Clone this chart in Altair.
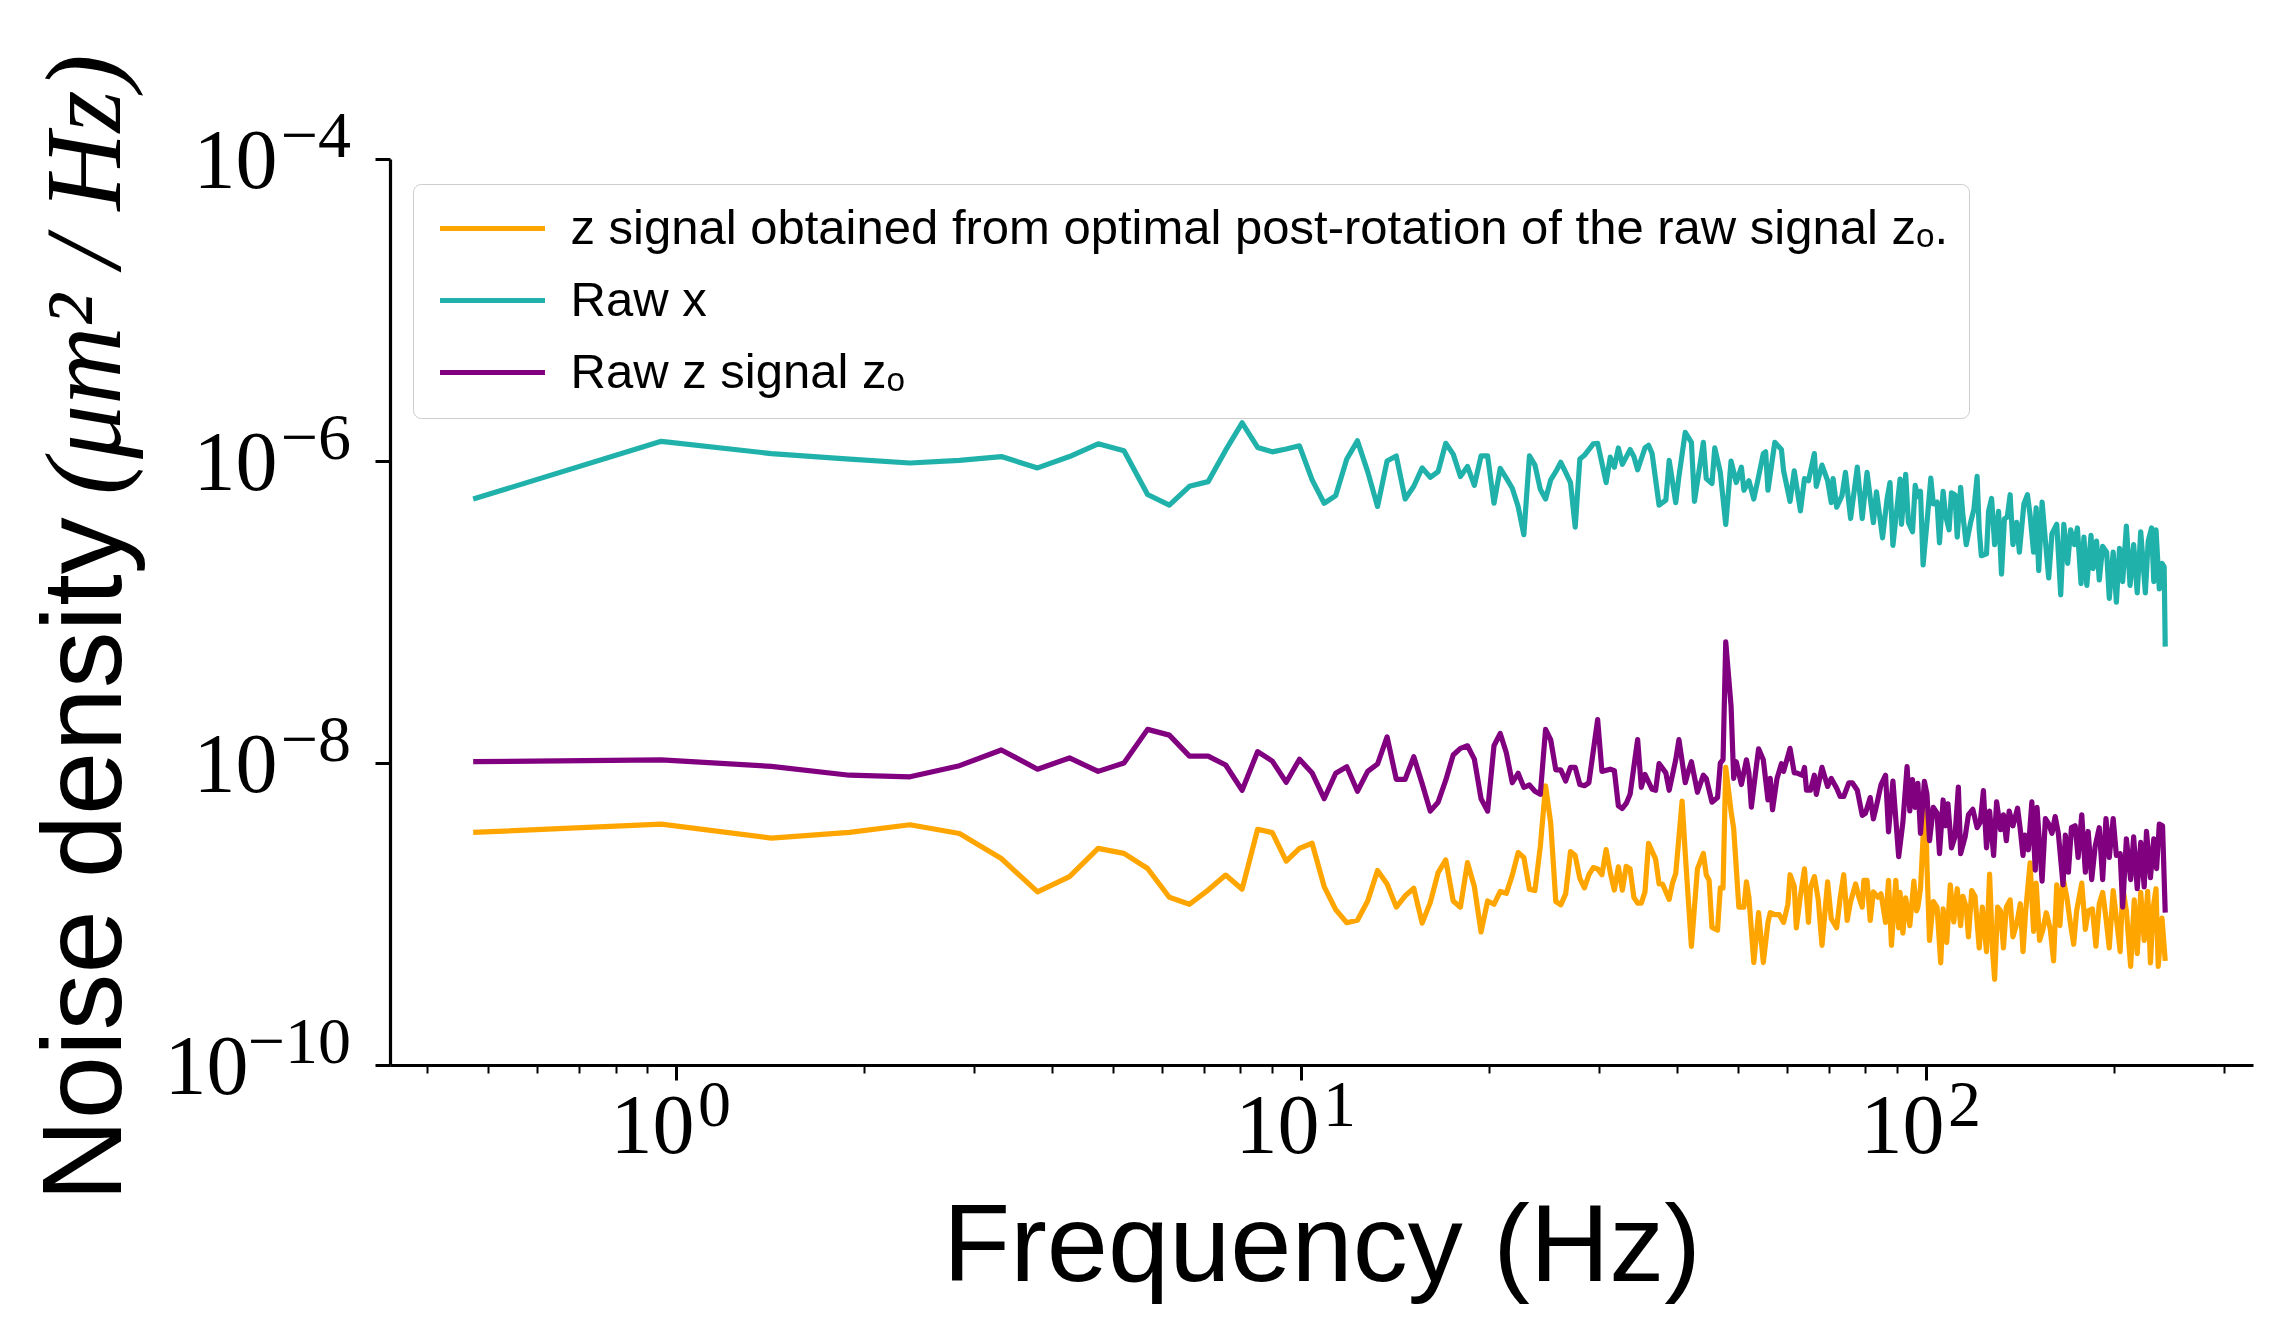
import altair as alt
import pandas as pd

# frequency resolution of the spectra (Hz per bin)
DF_HZ = 0.4735

# (bin index, noise density) pairs
RAW_X = [
    (1, 5.6e-7), (2, 1.35e-6), (3, 1.12e-6), (4, 1.03e-6), (5, 9.7e-7), (6, 1.01e-6), (7, 1.07e-6),
    (8, 9.0e-7), (9, 1.07e-6), (10, 1.30e-6), (11, 1.17e-6), (12, 6.0e-7), (13, 5.1e-7), (14, 6.8e-7),
    (15, 7.3e-7), (16, 1.18e-6), (17, 1.79e-6), (18, 1.23e-6), (19, 1.15e-6), (20, 1.20e-6), (21, 1.26e-6),
    (22, 7.5e-7), (23, 5.25e-7), (24, 5.9e-7), (25, 1.03e-6), (26, 1.36e-6), (27, 8.5e-7), (28, 5.0e-7),
    (29, 1.0e-6), (30, 1.08e-6), (31, 5.6e-7), (32, 6.8e-7), (33, 9.0e-7), (34, 7.8e-7), (35, 8.5e-7),
    (36, 1.31e-6), (37, 1.11e-6), (38, 7.9e-7), (39, 9.2e-7), (40, 6.9e-7), (41, 1.08e-6), (42, 1.08e-6),
    (43, 5.25e-7), (44, 8.95e-7), (45, 7.7e-7), (46, 6.6e-7), (47, 5.0e-7), (48, 3.25e-7), (49, 1.08e-6),
    (50, 9.4e-7), (51, 6.5e-7), (52, 5.6e-7), (53, 7.5e-7), (54, 8.5e-7), (55, 9.8e-7),
    (56, 8.4e-7), (57, 7.2e-7), (58, 3.65e-7), (59, 1.03e-6), (60, 1.09e-6), (62, 1.30e-6), (63, 1.31e-6),
    (65, 7.2e-7), (66, 1.06e-6), (67, 9.1e-7), (68, 1.22e-6), (69, 9.5e-7), (71, 1.19e-6), (72, 1.07e-6),
    (73, 8.75e-7), (75, 1.22e-6), (76, 1.27e-6), (77, 1.12e-6), (79, 5.1e-7), (81, 5.5e-7), (82, 1.01e-6),
    (84, 5.3e-7), (85, 7.9e-7), (87, 1.55e-6), (89, 1.33e-6), (90, 5.4e-7), (93, 1.33e-6), (94, 7.65e-7),
    (96, 7.1e-7), (97, 1.22e-6), (99, 8.4e-7), (101, 3.8e-7), (103, 1.0e-6), (105, 7.2e-7), (107, 9.1e-7),
    (108, 6.4e-7), (110, 7.4e-7), (112, 5.6e-7), (114, 7.9e-7), (116, 1.12e-6), (117, 1.15e-6), (118, 6.4e-7),
    (121, 1.33e-6), (124, 1.19e-6), (125, 8.6e-7), (128, 5.4e-7), (130, 8.6e-7), (133, 4.67e-7), (135, 7.65e-7),
    (137, 7.4e-7), (140, 1.12e-6), (141, 6.8e-7), (144, 9.4e-7), (147, 7.4e-7), (149, 5.3e-7), (150, 7.65e-7),
    (152, 4.94e-7), (155, 5.9e-7), (157, 8.4e-7), (160, 4.16e-7), (164, 9.1e-7), (167, 4.16e-7), (170, 8.4e-7),
    (174, 3.9e-7), (176, 6.25e-7), (180, 3.1e-7), (183, 5.6e-7), (185, 7.2e-7), (187, 2.76e-7), (192, 7.6e-7),
    (193, 3.81e-7), (196, 8.15e-7), (198, 3.92e-7), (201, 3.4e-7), (203, 6.9e-7), (205, 5.8e-7), (207, 6.3e-7),
    (209, 2.05e-7), (212, 3.92e-7), (215, 7.7e-7), (217, 5.2e-7), (220, 5.35e-7), (222, 2.87e-7), (225, 6.3e-7),
    (227, 4.38e-7), (230, 3.5e-7), (232, 6.15e-7), (235, 5.98e-7), (237, 3.13e-7), (240, 6.7e-7), (242, 4.38e-7),
    (245, 2.79e-7), (249, 3.92e-7), (252, 4.78e-7), (255, 7.9e-7), (257, 3.5e-7), (259, 2.36e-7), (264, 2.43e-7),
    (266, 4.64e-7), (269, 5.65e-7), (272, 2.79e-7), (276, 4.64e-7), (279, 1.78e-7), (282, 4.14e-7), (285, 4.26e-7),
    (288, 5.98e-7), (291, 2.79e-7), (295, 3.92e-7), (298, 2.49e-7), (303, 5.2e-7), (307, 5.98e-7), (310, 4.38e-7),
    (314, 2.49e-7), (317, 4.9e-7), (320, 1.88e-7), (324, 5.35e-7), (328, 2.95e-7), (332, 1.68e-7), (336, 3.3e-7),
    (342, 3.81e-7), (347, 1.30e-7), (351, 3.81e-7), (356, 2.1e-7), (360, 3.5e-7), (365, 2.79e-7), (369, 3.6e-7),
    (374, 1.54e-7), (378, 3.13e-7), (382, 1.5e-7), (388, 3.22e-7), (391, 1.94e-7), (396, 2.95e-7), (400, 1.63e-7),
    (405, 2.72e-7), (411, 2.49e-7), (415, 1.23e-7), (421, 2.49e-7), (426, 1.16e-7), (431, 2.64e-7), (436, 1.59e-7),
    (442, 3.7e-7), (448, 1.5e-7), (454, 2.79e-7), (460, 1.34e-7), (466, 3.4e-7), (474, 1.34e-7), (479, 2.95e-7),
    (485, 3.6e-7), (489, 1.59e-7), (493, 3.5e-7), (499, 1.42e-7), (504, 2.1e-7), (508, 1.99e-7), (510, 5.9e-8),
]

RAW_Z = [
    (1, 1.02e-8), (2, 1.05e-8), (3, 9.5e-9), (4, 8.3e-9), (5, 8.1e-9), (6, 9.6e-9), (7, 1.22e-8),
    (8, 9.1e-9), (9, 1.08e-8), (10, 8.8e-9), (11, 1.0e-8), (12, 1.67e-8), (13, 1.53e-8), (14, 1.11e-8),
    (15, 1.11e-8), (16, 9.7e-9), (17, 6.6e-9), (18, 1.19e-8), (19, 1.03e-8), (20, 7.45e-9), (21, 1.06e-8),
    (22, 8.6e-9), (23, 5.8e-9), (24, 8.55e-9), (25, 9.45e-9), (26, 6.5e-9), (27, 8.8e-9), (28, 9.85e-9),
    (29, 1.49e-8), (30, 7.8e-9), (31, 7.8e-9), (32, 1.10e-8), (33, 7.3e-9), (34, 4.8e-9), (35, 5.5e-9),
    (36, 7.7e-9), (37, 1.13e-8), (38, 1.25e-8), (39, 1.30e-8), (40, 1.06e-8), (41, 5.8e-9), (42, 4.8e-9),
    (43, 1.30e-8), (44, 1.57e-8), (45, 1.17e-8), (46, 7.4e-9), (47, 8.55e-9), (48, 6.9e-9), (49, 7.15e-9),
    (50, 6.5e-9), (51, 6.2e-9), (52, 1.67e-8), (53, 1.42e-8), (54, 9.0e-9), (55, 9.0e-9),
    (56, 7.6e-9), (57, 9.35e-9), (58, 9.35e-9), (59, 7.2e-9), (60, 7.07e-9), (61, 7.4e-9), (63, 1.94e-8),
    (64, 8.8e-9), (66, 9.1e-9), (67, 8.9e-9), (68, 5.2e-9), (69, 5.0e-9), (70, 5.4e-9), (71, 6.2e-9),
    (73, 1.43e-8), (74, 6.9e-9), (75, 8.4e-9), (77, 6.7e-9), (78, 6.6e-9), (79, 9.9e-9), (81, 8.6e-9),
    (82, 6.6e-9), (84, 1.05e-8), (85, 1.43e-8), (87, 7.4e-9), (88, 8.8e-9), (89, 1.02e-8), (91, 6.4e-9),
    (93, 8.3e-9), (94, 7.9e-9), (96, 5.5e-9), (98, 5.9e-9), (99, 1.0e-8), (100, 1.05e-8), (101, 6.34e-8),
    (103, 2.38e-8), (104, 7.9e-9), (105, 1.02e-8), (107, 7.2e-9), (109, 1.05e-8), (110, 8.6e-9), (111, 5.1e-9),
    (113, 9.35e-9), (114, 1.24e-8), (116, 1.05e-8), (118, 5.7e-9), (119, 7.9e-9), (120, 4.9e-9), (122, 7.9e-9),
    (124, 9.9e-9), (125, 8.8e-9), (128, 1.25e-8), (130, 8.6e-9), (131, 8.6e-9), (134, 8.3e-9), (135, 9.35e-9),
    (136, 6.6e-9), (138, 6.6e-9), (140, 8.3e-9), (141, 6.2e-9), (144, 9.35e-9), (147, 7.0e-9), (149, 7.9e-9),
    (152, 6.8e-9), (154, 6.0e-9), (156, 6.0e-9), (159, 7.4e-9), (161, 7.4e-9), (164, 6.6e-9), (167, 4.5e-9),
    (169, 4.65e-9), (172, 5.9e-9), (174, 4.26e-9), (176, 5.2e-9), (179, 7.2e-9), (182, 8.3e-9), (184, 3.5e-9),
    (187, 7.6e-9), (191, 2.4e-9), (194, 4.06e-9), (197, 9.45e-9), (199, 4.81e-9), (201, 7.76e-9), (203, 5.08e-9),
    (205, 7.34e-9), (207, 3.42e-9), (210, 7.55e-9), (212, 6.2e-9), (214, 3.06e-9), (217, 5.08e-9), (220, 4.67e-9),
    (222, 2.51e-9), (225, 5.69e-9), (227, 3.84e-9), (229, 5.37e-9), (232, 2.74e-9), (235, 3.24e-9), (238, 6.93e-9),
    (240, 2.51e-9), (244, 3.24e-9), (247, 4.54e-9), (251, 4.94e-9), (255, 3.73e-9), (258, 4.06e-9), (261, 6.56e-9),
    (264, 2.74e-9), (267, 4.81e-9), (271, 2.44e-9), (274, 5.53e-9), (278, 3.62e-9), (281, 4.54e-9), (284, 3.06e-9),
    (287, 4.81e-9), (291, 3.84e-9), (296, 5.02e-9), (299, 3.62e-9), (302, 2.44e-9), (304, 3.33e-9), (308, 2.66e-9),
    (312, 5.53e-9), (316, 1.95e-9), (318, 5.08e-9), (324, 1.65e-9), (328, 4.29e-9), (332, 3.94e-9), (336, 3.42e-9),
    (340, 4.42e-9), (344, 3.42e-9), (350, 1.56e-9), (353, 3.33e-9), (357, 1.89e-9), (361, 3.73e-9), (366, 3.84e-9),
    (370, 2.37e-9), (375, 4.54e-9), (380, 1.89e-9), (384, 3.52e-9), (389, 1.69e-9), (394, 2.81e-9), (400, 3.73e-9),
    (405, 1.69e-9), (410, 4.29e-9), (415, 2.37e-9), (421, 4.29e-9), (426, 2.44e-9), (432, 2.51e-9), (436, 1.11e-9),
    (442, 3.15e-9), (449, 1.69e-9), (454, 3.24e-9), (460, 1.47e-9), (466, 2.98e-9), (472, 1.51e-9), (476, 3.52e-9),
    (483, 1.74e-9), (489, 3.15e-9), (494, 2.0e-9), (499, 3.94e-9), (505, 3.84e-9), (510, 1.02e-9),
]

ROTATED_Z = [
    (1, 3.47e-9), (2, 3.94e-9), (3, 3.18e-9), (4, 3.47e-9), (5, 3.9e-9), (6, 3.41e-9), (7, 2.33e-9),
    (8, 1.40e-9), (9, 1.77e-9), (10, 2.72e-9), (11, 2.52e-9), (12, 2.0e-9), (13, 1.29e-9), (14, 1.16e-9),
    (15, 1.44e-9), (16, 1.81e-9), (17, 1.46e-9), (18, 3.64e-9), (19, 3.46e-9), (20, 2.24e-9), (21, 2.72e-9),
    (22, 2.94e-9), (23, 1.52e-9), (24, 1.07e-9), (25, 8.75e-10), (26, 9.1e-10), (27, 1.22e-9), (28, 1.94e-9),
    (29, 1.58e-9), (30, 1.11e-9), (31, 1.32e-9), (32, 1.48e-9), (33, 8.7e-10), (34, 1.19e-9), (35, 1.88e-9),
    (36, 2.28e-9), (37, 1.22e-9), (38, 1.11e-9), (39, 2.19e-9), (40, 1.52e-9), (41, 7.6e-10), (42, 1.22e-9),
    (43, 1.16e-9), (44, 1.41e-9), (45, 1.37e-9), (46, 1.81e-9), (47, 2.55e-9), (48, 2.37e-9), (49, 1.46e-9),
    (50, 1.43e-9), (51, 2.79e-9), (52, 7.05e-9), (53, 3.98e-9), (54, 1.21e-9), (55, 1.15e-9),
    (56, 1.36e-9), (57, 2.59e-9), (58, 2.44e-9), (59, 1.72e-9), (60, 1.49e-9), (61, 1.82e-9), (62, 2.03e-9),
    (63, 1.99e-9), (64, 1.82e-9), (65, 2.67e-9), (66, 1.88e-9), (67, 1.44e-9), (68, 2.05e-9), (69, 1.44e-9),
    (70, 2.07e-9), (71, 1.99e-9), (72, 1.29e-9), (73, 1.18e-9), (74, 1.18e-9), (75, 1.40e-9), (76, 2.94e-9),
    (78, 2.31e-9), (79, 1.58e-9), (80, 1.58e-9), (82, 1.25e-9), (83, 1.60e-9), (84, 1.85e-9), (86, 5.6e-9),
    (87, 2.52e-9), (89, 6.1e-10), (91, 1.99e-9), (93, 2.52e-9), (94, 1.82e-9), (95, 1.67e-9), (96, 8.15e-10),
    (98, 7.83e-10), (99, 1.49e-9), (100, 1.49e-9), (101, 9.35e-9), (103, 4.78e-9), (104, 3.68e-9), (106, 1.11e-9),
    (108, 1.11e-9), (109, 1.63e-9), (110, 1.29e-9), (112, 4.77e-10), (114, 1.02e-9), (116, 4.77e-10), (118, 8.8e-10),
    (119, 1.02e-9), (121, 9.9e-10), (123, 9.9e-10), (125, 8.8e-10), (127, 1.16e-9), (128, 1.82e-9), (130, 1.53e-9),
    (131, 8.1e-10), (133, 1.32e-9), (135, 1.99e-9), (137, 8.8e-10), (138, 1.49e-9), (140, 1.77e-9), (142, 1.25e-9),
    (144, 6.2e-10), (147, 1.63e-9), (149, 9.3e-10), (152, 8.1e-10), (154, 1.29e-9), (156, 1.82e-9), (158, 9.06e-10),
    (160, 1.21e-9), (163, 1.58e-9), (165, 1.29e-9), (167, 1.11e-9), (168, 1.67e-9), (170, 1.67e-9), (172, 9.06e-10),
    (174, 1.40e-9), (177, 1.29e-9), (179, 1.36e-9), (182, 8.8e-10), (184, 1.67e-9), (186, 6.2e-10), (189, 1.67e-9),
    (191, 8.1e-10), (192, 1.39e-9), (194, 7.47e-10), (196, 1.28e-9), (199, 8.37e-10), (202, 1.65e-9), (204, 1.05e-9),
    (205, 1.11e-9), (207, 1.47e-9), (209, 3.24e-9), (211, 5.08e-9), (212, 2.06e-9), (214, 6.68e-10), (217, 1.21e-9),
    (220, 1.11e-9), (223, 4.75e-10), (225, 1.08e-9), (228, 6.49e-10), (231, 1.56e-9), (234, 8.85e-10), (237, 1.47e-9),
    (240, 8.37e-10), (242, 1.31e-9), (245, 1.11e-9), (247, 7.06e-10), (250, 1.43e-9), (253, 1.31e-9), (257, 5.96e-10),
    (260, 1.11e-9), (264, 5.64e-10), (267, 1.84e-9), (270, 5.64e-10), (272, 3.69e-10), (275, 1.11e-9), (278, 1.05e-9),
    (281, 5.96e-10), (284, 1.11e-9), (288, 1.24e-9), (291, 7.06e-10), (295, 8.6e-10), (299, 1.17e-9), (302, 5.64e-10),
    (305, 1.05e-9), (310, 2.18e-9), (314, 7.68e-10), (317, 1.60e-9), (321, 6.68e-10), (325, 7.9e-10), (329, 1.02e-9),
    (334, 7.9e-10), (338, 4.89e-10), (342, 1.56e-9), (346, 8.37e-10), (350, 1.74e-9), (355, 1.28e-9), (360, 8.37e-10),
    (364, 6.3e-10), (368, 1.05e-9), (375, 1.60e-9), (380, 7.9e-10), (384, 1.05e-9), (390, 1.08e-9), (395, 6.12e-10),
    (400, 1.17e-9), (405, 1.39e-9), (410, 9.38e-10), (415, 5.96e-10), (421, 1.43e-9), (426, 9.38e-10), (432, 5.64e-10),
    (436, 1.51e-9), (442, 1.05e-9), (449, 4.5e-10), (455, 1.24e-9), (460, 5.47e-10), (466, 1.39e-9), (472, 6.68e-10),
    (478, 1.41e-9), (483, 4.75e-10), (488, 1.11e-9), (493, 1.47e-9), (497, 4.5e-10), (504, 9.38e-10), (510, 4.89e-10),
]

LABEL_ROT = "z signal obtained from optimal post-rotation of the raw signal zₒ."
LABEL_X = "Raw x"
LABEL_Z = "Raw z signal zₒ"
SERIES = [LABEL_ROT, LABEL_X, LABEL_Z]
COLORS = ["#FFA500", "#20B2AA", "#800080"]

X_TICKS = [0.4, 0.5, 0.6, 0.7, 0.8, 0.9, 1, 2, 3, 4, 5, 6, 7, 8, 9,
           10, 20, 30, 40, 50, 60, 70, 80, 90, 100, 200, 300]
X_DECADES = [1, 10, 100]
X_EXPONENTS = ["0", "1", "2"]
Y_DECADES = [1e-10, 1e-8, 1e-6, 1e-4]
Y_EXPONENTS = ["\u221210", "\u22128", "\u22126", "\u22124"]

X_TITLE = "Frequency (Hz)"
Y_TITLE = "Noise density"
Y_TITLE_MATH = "(\u03bcm\u00b2 / Hz)"


def frame(pairs, label):
    return pd.DataFrame({
        "freq": [k * DF_HZ for k, _ in pairs],
        "psd": [v for _, v in pairs],
        "series": label,
    })


W, H = 1863, 906
SERIF = "Liberation Serif"
SANS = "Liberation Sans"

xscale = alt.Scale(type="log", domain=[0.3485, 333.7], nice=False)
yscale = alt.Scale(type="log", domain=[1e-10, 1e-4], nice=False)

is_decade = "abs(log(datum.value)/LN10 - round(log(datum.value)/LN10)) < 1e-6"

xaxis = alt.Axis(
    values=X_TICKS,
    labelExpr=f"({is_decade}) ? '10' : ''",
    tickSize={"condition": {"test": is_decade, "value": 15}, "value": 8},
    tickWidth={"condition": {"test": is_decade, "value": 3}, "value": 2},
    tickColor="black", domainColor="black", domainWidth=3.2, grid=False,
    labelFont=SERIF, labelFontSize=84, labelColor="black", labelPadding=6,
    labelOffset=-24, labelOverlap=False, labelFlush=False, labelBaseline="top",
    title=X_TITLE, titleFont=SANS, titleFontSize=110, titleFontWeight="normal",
    titleColor="black", titleY=215, titleBaseline="alphabetic",
)

yaxis = alt.Axis(
    values=Y_DECADES,
    labelExpr="'10'",
    tickSize=15, tickWidth=3, tickColor="black",
    domainColor="black", domainWidth=3.2, grid=False,
    labelFont=SERIF, labelFontSize=84, labelColor="black",
    labelPadding={"condition": {"test": "datum.value < 1e-9", "value": 127}, "value": 98},
    labelAlign="right", labelBaseline="middle", labelOffset=3,
    labelOverlap=False, labelFlush=False,
    title=Y_TITLE, titleFont=SANS, titleFontSize=114, titleFontWeight="normal",
    titleColor="black", titleAngle=270, titleX=-270, titleY=1042,
    titleAlign="left", titleBaseline="alphabetic",
)

color = alt.Color(
    "series:N",
    scale=alt.Scale(domain=SERIES, range=COLORS),
    legend=alt.Legend(
        title=None, orient="none", legendX=23, legendY=25,
        symbolType="M0,0H6", symbolStrokeWidth=5, symbolSize=1225, symbolOffset=-17.5,
        labelFont=SANS, labelFontSize=49, labelColor="black", labelOffset=106,
        labelLimit=3000, rowPadding=22, padding=20,
        fillColor="white", strokeColor="#cccccc", cornerRadius=8,
    ),
)


def line_layer(df):
    return alt.Chart(df).mark_line(strokeWidth=5.2, strokeJoin="round").encode(
        x=alt.X("freq:Q", scale=xscale, axis=xaxis),
        y=alt.Y("psd:Q", scale=yscale, axis=yaxis),
        color=color,
    )


layers = [
    line_layer(frame(ROTATED_Z, LABEL_ROT)),
    line_layer(frame(RAW_X, LABEL_X)),
    line_layer(frame(RAW_Z, LABEL_Z)),
]

x_exp = alt.Chart(pd.DataFrame({"freq": X_DECADES, "exp": X_EXPONENTS})).mark_text(
    align="left", baseline="alphabetic", dx=22, font=SERIF, fontSize=66, color="black"
).encode(
    x=alt.X("freq:Q", scale=xscale, axis=xaxis),
    y=alt.value(H + 61),
    text="exp:N",
)

y_exp = alt.Chart(pd.DataFrame({"psd": Y_DECADES, "exp": Y_EXPONENTS})).mark_text(
    align="right", baseline="alphabetic", dy=-2, font=SERIF, fontSize=66, color="black"
).encode(
    y=alt.Y("psd:Q", scale=yscale, axis=yaxis),
    x=alt.value(-39),
    text="exp:N",
)

y_math = alt.Chart(pd.DataFrame({"t": [Y_TITLE_MATH]})).mark_text(
    angle=270, align="left", baseline="alphabetic", font=SERIF, fontStyle="italic",
    fontSize=108, color="black"
).encode(
    x=alt.value(-270),
    y=alt.value(336),
    text="t:N",
)

chart = alt.layer(*layers, x_exp, y_exp, y_math).properties(
    width=W, height=H,
    autosize=alt.AutoSizeParams(type="none"),
    padding={"left": 382, "top": 151, "right": 10, "bottom": 250},
    background="white",
).configure_view(strokeWidth=0)

chart.save("out.html", embed_options={"renderer": "svg", "actions": False})
